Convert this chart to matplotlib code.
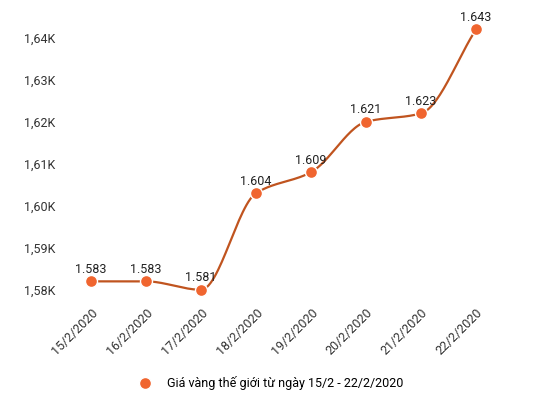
import matplotlib
matplotlib.use("Agg")
import matplotlib.pyplot as plt
import matplotlib.transforms as mtrans
import numpy as np

dates = ["15/2/2020","16/2/2020","17/2/2020","18/2/2020","19/2/2020","20/2/2020","21/2/2020","22/2/2020"]
values = [1583, 1583, 1581, 1604, 1609, 1621, 1623, 1643]
labels = ["1.583","1.583","1.581","1.604","1.609","1.621","1.623","1.643"]
yticks = [1580, 1590, 1600, 1610, 1620, 1630, 1640]
yticklabels = ["1,58K","1,59K","1,60K","1,61K","1,62K","1,63K","1,64K"]

plt.rcParams['font.family'] = ['Roboto', 'DejaVu Sans']

def monotone(x, y, n=30):
    x = np.asarray(x, float); y = np.asarray(y, float)
    h = np.diff(x); d = np.diff(y) / h
    m = np.zeros_like(y)
    m[0], m[-1] = d[0], d[-1]
    for i in range(1, len(y) - 1):
        if d[i-1] * d[i] <= 0:
            m[i] = 0
        else:
            m[i] = 2 / (1/d[i-1] + 1/d[i])
    xs, ys = [], []
    for i in range(len(h)):
        t = np.linspace(0, 1, n)
        h00 = 2*t**3 - 3*t**2 + 1; h10 = t**3 - 2*t**2 + t
        h01 = -2*t**3 + 3*t**2; h11 = t**3 - t**2
        xs.append(x[i] + t*h[i])
        ys.append(h00*y[i] + h10*h[i]*m[i] + h01*y[i+1] + h11*h[i]*m[i+1])
    return np.concatenate(xs), np.concatenate(ys)

fig = plt.figure(figsize=(5.36, 4.09), dpi=100)
ax = fig.add_axes([0.1185, 0.271, 0.821, 0.69])
x = np.arange(len(values))
sx, sy = monotone(x, values)
ax.plot(sx, sy, color="#c0541f", lw=1.6, zorder=2)
ax.scatter(x, values, s=75, color="#f0652f", edgecolor="white", linewidth=1, zorder=3,
           label="Giá vàng thế giới từ ngày 15/2 - 22/2/2020")
for xi, v, l in zip(x, values, labels):
    ax.text(xi, v + 1.3, l, ha="center", va="bottom", fontsize=9, color="#222222")
ax.set_xlim(-0.5, 7.5)
ax.set_ylim(1579, 1646.2)
ax.set_xticks(x)
ax.set_xticklabels(dates, rotation=45, ha="right", rotation_mode="anchor", fontsize=9, color="#333333")
ax.set_yticks(yticks)
ax.set_yticklabels(yticklabels, fontsize=9, color="#333333")
ax.tick_params(length=0, pad=6)
off = mtrans.ScaledTranslation(0, 4/100, fig.dpi_scale_trans)
for lab in ax.get_yticklabels():
    lab.set_transform(lab.get_transform() + off)
for s in ax.spines.values():
    s.set_visible(False)
fig.legend(loc="lower center", bbox_to_anchor=(0.5, 0.02), frameon=False, fontsize=9, handletextpad=0.8)
fig.savefig("out.png", dpi=100)
